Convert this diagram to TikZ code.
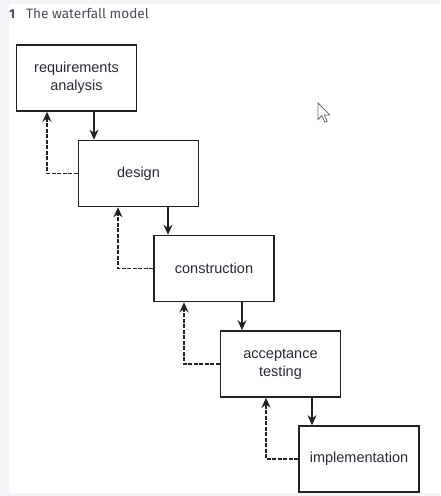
\documentclass[tikz,border=0pt]{standalone}
\usepackage{fontspec}
\setmainfont{Liberation Sans}
\newfontfamily\titlefont{Fira Sans}
\usetikzlibrary{arrows.meta,calc}
\definecolor{pagegrey}{HTML}{F4F3F8}
\definecolor{boxline}{HTML}{222222}
\definecolor{boxtext}{HTML}{2A2A35}
\definecolor{titlegrey}{HTML}{4D4D58}
\tikzset{
  stagebox/.style={draw=boxline, line width=1.6pt, fill=white, minimum width=120pt,
    minimum height=66pt, inner sep=0pt, align=center, text=boxtext,
    font=\fontsize{14.5}{18}\selectfont},
  flowarrow/.style={draw=boxline, line width=1.4pt, -{Stealth[length=10pt,width=9pt]}},
  backarrow/.style={draw=boxline, line width=1.2pt, dash pattern=on 4pt off 1.5pt,
    -{Stealth[length=10pt,width=9pt]}},
}
\begin{document}
\begin{tikzpicture}[x=1pt,y=-1pt]
\useasboundingbox (0,0) rectangle (440,496);
\fill[pagegrey] (0,0) rectangle (440,496);
\fill[white] (9,4) rectangle (440,493);
% title
\node[anchor=base west, inner sep=0pt, text=titlegrey, font=\titlefont\fontsize{13}{15}\selectfont\bfseries] (num) at (9,18.5) {1};
\node[anchor=base west, inner sep=0pt, text=titlegrey, font=\titlefont\fontsize{13.6}{15}\selectfont] (title) at (26,18.5) {The waterfall model};
% boxes
\node[stagebox] (B1) at (76.5,78) {requirements\\analysis};
\node[stagebox] (B2) at (138.5,173.5) {design};
\node[stagebox] (B3) at (214,268.5) {construction};
\node[stagebox] (B4) at (280.5,364) {acceptance\\testing};
\node[stagebox] (B5) at (359,459) {implementation};
% x positions of connectors
\coordinate (f1) at (94,0);
\coordinate (f2) at (168,0);
\coordinate (f3) at (242,0);
\coordinate (f4) at (312,0);
\coordinate (r1) at (47,0);
\coordinate (r2) at (118,0);
\coordinate (r3) at (184,0);
\coordinate (r4) at (266,0);
% forward arrows
\draw[flowarrow] (B1.south -| f1) -- (B2.north -| f1);
\draw[flowarrow] (B2.south -| f2) -- (B3.north -| f2);
\draw[flowarrow] (B3.south -| f3) -- (B4.north -| f3);
\draw[flowarrow] (B4.south -| f4) -- (B5.north -| f4);
% feedback arrows
\draw[backarrow] (B2.west) -| (B1.south -| r1);
\draw[backarrow] (B3.west) -| (B2.south -| r2);
\draw[backarrow] (B4.west) -| (B3.south -| r3);
\draw[backarrow] (B5.west) -| (B4.south -| r4);
% mouse cursor
\draw[fill=white, draw=black!60, line width=0.8pt, line join=miter]
  (318,103) -- ++(0,16.5) -- ++(3.8,-3.8) -- ++(3,6.5) -- ++(2.4,-1) -- ++(-3,-6.3) -- ++(5.5,0) -- cycle;
\end{tikzpicture}
\end{document}
